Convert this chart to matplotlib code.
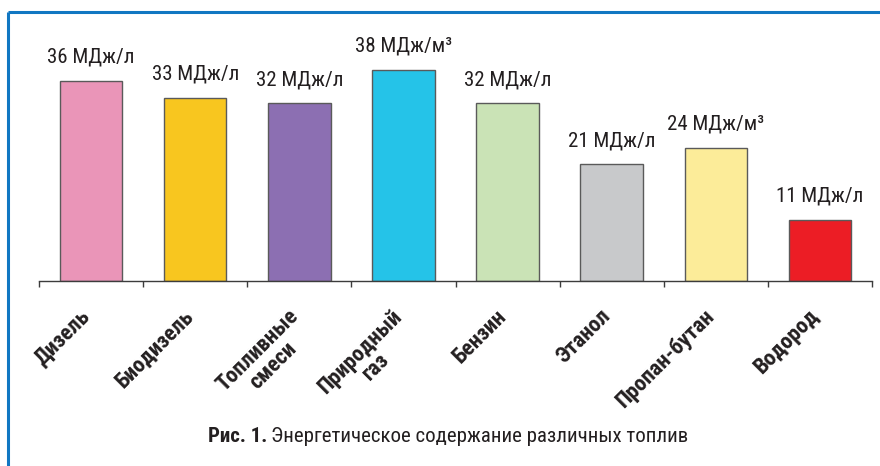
import matplotlib
matplotlib.use("Agg")
import matplotlib.pyplot as plt
from matplotlib.lines import Line2D
from matplotlib.ticker import FixedLocator
from matplotlib.transforms import ScaledTranslation

plt.rcParams["font.family"] = ["Roboto Condensed", "DejaVu Sans"]

# Fuel types and their energy content
fuels = ["Дизель", "Биодизель", "Топливные\nсмеси", "Природный\nгаз",
         "Бензин", "Этанол", "Пропан-бутан", "Водород"]
energy = [36, 33, 32, 38, 32, 21, 24, 11]
units = ["МДж/л", "МДж/л", "МДж/л", "МДж/м³", "МДж/л", "МДж/л", "МДж/м³", "МДж/л"]
colors = ["#EA95B8", "#F8C61F", "#8C6FB2", "#25C3E8", "#CAE3B6",
          "#C8C9CB", "#FCEC99", "#EC1D25"]

W, H = 880, 466
fig = plt.figure(figsize=(W / 100, H / 100), dpi=100)
fig.patch.set_facecolor("white")

ax_left, ax_right, ax_base = 39, 872, 281
ymax = 48
px_per_unit = (281 - 81) / 36
ax_top = ax_base - ymax * px_per_unit
ax = fig.add_axes([ax_left / W, 1 - ax_base / H,
                   (ax_right - ax_left) / W, (ax_base - ax_top) / H])

x = list(range(len(fuels)))
ax.bar(x, energy, width=0.6, color=colors, edgecolor="#5a5a5a", linewidth=1.0)

ax.set_xlim(-0.5, len(fuels) - 0.5)
ax.set_ylim(0, ymax)

for s in ("top", "right", "left"):
    ax.spines[s].set_visible(False)
ax.spines["bottom"].set_color("#3c3c3c")
ax.spines["bottom"].set_linewidth(1.0)
ax.set_yticks([])

# Tick marks sit between categories
ax.xaxis.set_major_locator(FixedLocator([i - 0.5 for i in range(len(fuels) + 1)]))
ax.tick_params(axis="x", which="major", length=4, width=1.0, color="#3c3c3c",
               labelbottom=False)

# Category names, rotated, hanging below each bar
label_shift = ax.get_xaxis_transform() + ScaledTranslation(-12 / 100, -24 / 100,
                                                           fig.dpi_scale_trans)
for xi, name in zip(x, fuels):
    ax.text(xi, 0, name, transform=label_shift, rotation=45, rotation_mode="anchor",
            ha="right", va="top", multialignment="center", linespacing=1.0,
            fontsize=16, fontweight="black", color="#231f20")

# Value labels above bars
for xi, v, u in zip(x, energy, units):
    ax.annotate(f"{v} {u}", xy=(xi, v), xytext=(0, 13), textcoords="offset points",
                ha="center", va="baseline", fontsize=15, color="#231f20")

# Caption: bold figure number followed by regular title
cap_y = 1 - 437 / H
cap_bold = fig.text(208 / W, cap_y, "Рис. 1.", ha="left", va="center",
                    fontsize=15, fontweight="bold", color="#231f20")
fig.canvas.draw()
bb = cap_bold.get_window_extent()
fig.text((bb.x1 + 4) / W, cap_y, "Энергетическое содержание различных топлив",
         ha="left", va="center", fontsize=15, color="#231f20")

# Blue frame (top and left edges)
frame_color = "#1177C2"
fig.add_artist(Line2D([8 / W, 1], [1 - 12 / H, 1 - 12 / H], transform=fig.transFigure,
                      color=frame_color, linewidth=2.2, solid_capstyle="butt"))
fig.add_artist(Line2D([8 / W, 8 / W], [1 - 12 / H, 0], transform=fig.transFigure,
                      color=frame_color, linewidth=2.2, solid_capstyle="butt"))

fig.savefig("out.png", dpi=100, facecolor="white")
